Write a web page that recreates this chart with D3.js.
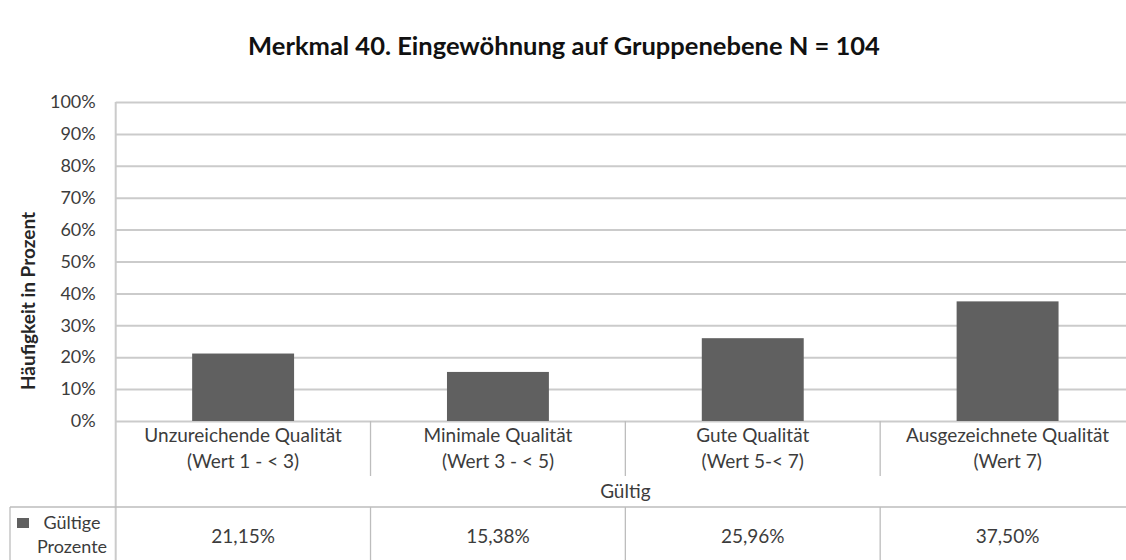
<!DOCTYPE html>
<html>
<head>
<meta charset="utf-8">
<script src="https://cdn.jsdelivr.net/npm/d3@7"></script>
<style>
  body { margin: 0; background: #fff; }
  text { font-family: Lato, "Open Sans", sans-serif; }
</style>
</head>
<body>
<div id="chart"></div>
<script>
// chart data
const categories = ["Unzureichende Qualität", "Minimale Qualität", "Gute Qualität", "Ausgezeichnete Qualität"]
const categoryRanges = ["(Wert 1 - < 3)", "(Wert 3 - < 5)", "(Wert 5-< 7)", "(Wert 7)"]
const values = [21.15, 15.38, 25.96, 37.50]
const valueLabels = ["21,15%", "15,38%", "25,96%", "37,50%"]
const yTicks = [0, 10, 20, 30, 40, 50, 60, 70, 80, 90, 100]
const groupLabel = "Gültig"
const seriesLabel = ["Gültige", "Prozente"]

const barColor = "#606060"
const gridColor = "#cbcbcb"
const tableColor = "#bdbdbd"
const textColor = "#3c3c3c"

const width = 1126, height = 560
const plot = {left: 115.7, right: 1135, top: 102, bottom: 421}

const svg = d3.select("#chart")
  .append("svg")
  .attr("width", width)
  .attr("height", height)

// scales
const xCell = d3.scaleBand()
  .domain(categories)
  .range([plot.left, plot.right])
  .padding(0)

const x = d3.scaleBand()
  .domain(categories)
  .range([plot.left, plot.right])
  .paddingInner(0.6)
  .paddingOuter(0.3)

const y = d3.scaleLinear()
  .domain([0, 100])
  .range([plot.bottom, plot.top])

// gridlines + y labels
const yAxis = svg.append("g")
  .attr("transform", `translate(${plot.left},0)`)
  .call(d3.axisLeft(y)
    .tickValues(yTicks)
    .tickSize(-(width - plot.left))
    .tickPadding(20)
    .tickFormat(d => d + "%"))

yAxis.select(".domain").remove()
yAxis.selectAll(".tick line")
  .attr("stroke", gridColor)
  .attr("stroke-width", 2)
yAxis.selectAll(".tick text")
  .attr("fill", textColor)
  .attr("font-size", 18)

// bars
svg.selectAll(".bar")
  .data(values)
  .join("rect")
  .attr("class", "bar")
  .attr("x", (d, i) => x(categories[i]))
  .attr("y", d => y(d))
  .attr("width", x.bandwidth())
  .attr("height", d => y(0) - y(d))
  .attr("fill", barColor)

// vertical axis line
svg.append("line")
  .attr("x1", plot.left).attr("x2", plot.left)
  .attr("y1", plot.top).attr("y2", height)
  .attr("stroke", gridColor)
  .attr("stroke-width", 2)

// category separators and labels
const tableTop = 507
svg.selectAll(".cat-sep")
  .data(categories.slice(1))
  .join("line")
  .attr("class", "cat-sep")
  .attr("x1", d => xCell(d)).attr("x2", d => xCell(d))
  .attr("y1", plot.bottom).attr("y2", 476)
  .attr("stroke", tableColor)
  .attr("stroke-width", 1.3)

svg.selectAll(".cat-label")
  .data(categories)
  .join("text")
  .attr("class", "cat-label")
  .attr("text-anchor", "middle")
  .attr("font-size", 19)
  .attr("fill", textColor)
  .attr("x", d => xCell(d) + xCell.bandwidth() / 2)
  .attr("y", 442)
  .text(d => d)

svg.selectAll(".cat-range")
  .data(categoryRanges)
  .join("text")
  .attr("class", "cat-range")
  .attr("text-anchor", "middle")
  .attr("font-size", 19)
  .attr("fill", textColor)
  .attr("x", (d, i) => xCell(categories[i]) + xCell.bandwidth() / 2)
  .attr("y", 468)
  .text(d => d)

svg.append("text")
  .attr("text-anchor", "middle")
  .attr("font-size", 19)
  .attr("fill", textColor)
  .attr("x", (plot.left + plot.right) / 2)
  .attr("y", 498)
  .text(groupLabel)

// data table
svg.append("line")
  .attr("x1", 10).attr("x2", width)
  .attr("y1", tableTop).attr("y2", tableTop)
  .attr("stroke", tableColor)
  .attr("stroke-width", 1.3)

svg.append("line")
  .attr("x1", 10).attr("x2", 10)
  .attr("y1", tableTop).attr("y2", height)
  .attr("stroke", tableColor)
  .attr("stroke-width", 1.3)

svg.selectAll(".row-sep")
  .data(categories.slice(1))
  .join("line")
  .attr("class", "row-sep")
  .attr("x1", d => xCell(d)).attr("x2", d => xCell(d))
  .attr("y1", tableTop).attr("y2", height)
  .attr("stroke", tableColor)
  .attr("stroke-width", 1.3)

svg.selectAll(".row-value")
  .data(valueLabels)
  .join("text")
  .attr("class", "row-value")
  .attr("text-anchor", "middle")
  .attr("font-size", 19)
  .attr("fill", textColor)
  .attr("x", (d, i) => xCell(categories[i]) + xCell.bandwidth() / 2)
  .attr("y", 543)
  .text(d => d)

// legend key inside the table
svg.append("rect")
  .attr("x", 17).attr("y", 518)
  .attr("width", 12).attr("height", 10)
  .attr("fill", barColor)

svg.selectAll(".series-label")
  .data(seriesLabel)
  .join("text")
  .attr("class", "series-label")
  .attr("text-anchor", "middle")
  .attr("font-size", 18)
  .attr("fill", textColor)
  .attr("x", 72)
  .attr("y", (d, i) => 529 + i * 24)
  .text(d => d)

// axis title
svg.append("text")
  .attr("transform", "translate(35,301) rotate(-90)")
  .attr("text-anchor", "middle")
  .attr("font-size", 19)
  .attr("font-weight", "bold")
  .attr("fill", "#262626")
  .text("Häufigkeit in Prozent")

// title
svg.append("text")
  .attr("x", 564)
  .attr("y", 55)
  .attr("text-anchor", "middle")
  .attr("font-size", 25.5)
  .attr("font-weight", "bold")
  .attr("fill", "#111")
  .text("Merkmal 40. Eingewöhnung auf Gruppenebene N = 104")
</script>
</body>
</html>
